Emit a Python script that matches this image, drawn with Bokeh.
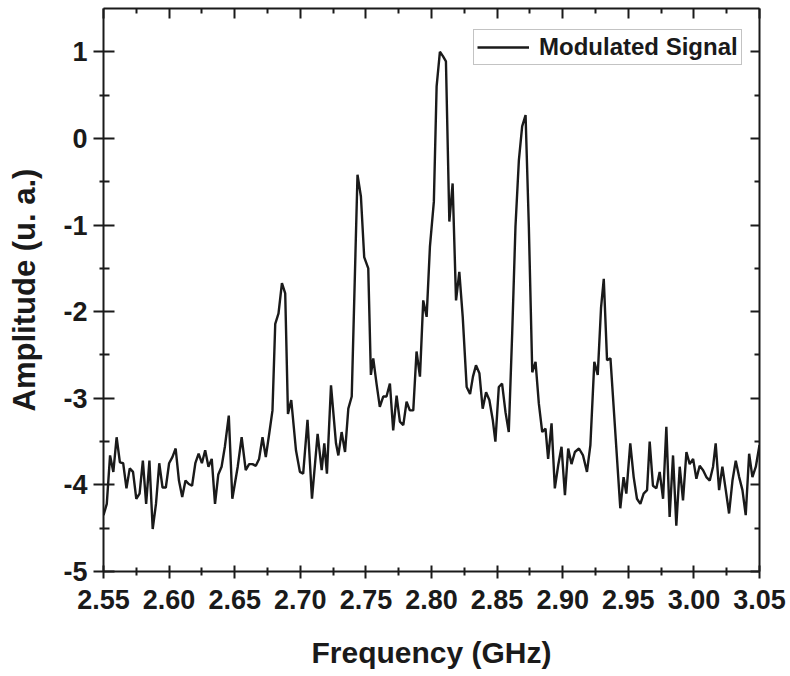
from bokeh.plotting import figure
from bokeh.models import Range1d, FixedTicker, LinearAxis, CustomJSTickFormatter
from bokeh.embed import file_html
from bokeh.resources import INLINE

# ---- data ----
freq_ghz = [
    2.5500, 2.5525, 2.5550, 2.5575, 2.5600, 2.5625, 2.5650, 2.5675, 2.5700, 2.5725,
    2.5750, 2.5775, 2.5800, 2.5825, 2.5850, 2.5875, 2.5900, 2.5925, 2.5950, 2.5975,
    2.6000, 2.6025, 2.6050, 2.6075, 2.6100, 2.6125, 2.6150, 2.6175, 2.6200, 2.6225,
    2.6250, 2.6275, 2.6300, 2.6325, 2.6350, 2.6375, 2.6400, 2.6425, 2.6455, 2.6482,
    2.6523, 2.6553, 2.6584, 2.6610, 2.6636, 2.6661, 2.6686, 2.6712, 2.6737, 2.6763,
    2.6788, 2.6809, 2.6834, 2.6860, 2.6885, 2.6906, 2.6931, 2.6967, 2.6997, 2.7022,
    2.7055, 2.7089, 2.7132, 2.7163, 2.7183, 2.7203, 2.7234, 2.7272, 2.7290, 2.7315,
    2.7341, 2.7366, 2.7392, 2.7436, 2.7462, 2.7487, 2.7518, 2.7538, 2.7556, 2.7581,
    2.7606, 2.7632, 2.7657, 2.7683, 2.7708, 2.7734, 2.7759, 2.7785, 2.7810, 2.7835,
    2.7861, 2.7886, 2.7912, 2.7937, 2.7963, 2.7988, 2.8018, 2.8039, 2.8064, 2.8087,
    2.8110, 2.8136, 2.8161, 2.8187, 2.8212, 2.8238, 2.8268, 2.8294, 2.8316, 2.8339,
    2.8365, 2.8390, 2.8416, 2.8441, 2.8467, 2.8487, 2.8513, 2.8538, 2.8564, 2.8589,
    2.8615, 2.8640, 2.8666, 2.8691, 2.8717, 2.8742, 2.8768, 2.8793, 2.8818, 2.8844,
    2.8869, 2.8889, 2.8915, 2.8940, 2.8966, 2.8991, 2.9017, 2.9042, 2.9067, 2.9093,
    2.9124, 2.9155, 2.9185, 2.9211, 2.9241, 2.9267, 2.9292, 2.9313, 2.9338, 2.9364,
    2.9439, 2.9464, 2.9485, 2.9515, 2.9541, 2.9566, 2.9592, 2.9617, 2.9643, 2.9663,
    2.9688, 2.9714, 2.9739, 2.9765, 2.9790, 2.9815, 2.9841, 2.9866, 2.9892, 2.9917,
    2.9943, 2.9968, 2.9994, 3.0019, 3.0044, 3.0070, 3.0095, 3.0121, 3.0146, 3.0166,
    3.0192, 3.0217, 3.0243, 3.0268, 3.0294, 3.0319, 3.0345, 3.0370, 3.0395, 3.0421,
    3.0446, 3.0472, 3.0500,
]
amplitude = [
    -4.35, -4.22, -3.66, -3.85, -3.45, -3.74, -3.75, -4.04, -3.81, -3.85,
    -4.16, -4.10, -3.72, -4.22, -3.72, -4.51, -4.22, -3.75, -4.03, -4.03,
    -3.75, -3.68, -3.58, -3.95, -4.14, -3.95, -3.99, -4.01, -3.75, -3.64,
    -3.75, -3.60, -3.79, -3.70, -4.22, -3.88, -3.79, -3.56, -3.20, -4.16,
    -3.79, -3.45, -3.83, -3.76, -3.76, -3.78, -3.70, -3.45, -3.68, -3.41,
    -3.14, -2.14, -2.02, -1.67, -1.79, -3.18, -3.02, -3.60, -3.85, -3.87,
    -3.25, -4.16, -3.41, -3.83, -3.52, -3.87, -2.85, -3.52, -3.66, -3.39,
    -3.62, -3.12, -2.98, -0.42, -0.67, -1.37, -1.50, -2.73, -2.54, -2.83,
    -3.10, -2.98, -2.98, -2.83, -3.37, -2.97, -3.27, -3.31, -3.04, -3.14,
    -3.14, -2.46, -2.75, -1.87, -2.06, -1.25, -0.73, 0.60, 1.00, 0.95,
    0.89, -0.96, -0.52, -1.87, -1.54, -2.06, -2.87, -2.95, -2.75, -2.62,
    -2.71, -3.12, -2.93, -3.02, -3.25, -3.50, -2.87, -2.83, -3.16, -3.39,
    -2.25, -1.02, -0.25, 0.14, 0.27, -1.02, -2.70, -2.58, -3.06, -3.39,
    -3.35, -3.70, -3.29, -4.04, -3.77, -3.56, -4.12, -3.58, -3.76, -3.62,
    -3.58, -3.66, -3.85, -3.54, -2.58, -2.73, -1.96, -1.62, -2.56, -2.54,
    -4.27, -3.91, -4.10, -3.52, -3.91, -4.16, -4.22, -4.10, -4.06, -3.50,
    -4.01, -4.04, -3.85, -4.16, -3.33, -4.37, -3.66, -4.47, -3.79, -4.18,
    -3.62, -3.76, -3.70, -3.93, -3.78, -3.83, -3.91, -3.95, -3.79, -3.52,
    -4.06, -3.79, -4.06, -4.33, -3.95, -3.72, -3.91, -4.06, -4.35, -3.64,
    -3.91, -3.79, -3.54,
]

x_ticks = [2.55, 2.60, 2.65, 2.70, 2.75, 2.80, 2.85, 2.90, 2.95, 3.00, 3.05]
x_tick_labels = ["2.55", "2.60", "2.65", "2.70", "2.75", "2.80", "2.85", "2.90", "2.95", "3.00", "3.05"]
x_minor_ticks = [2.575, 2.625, 2.675, 2.725, 2.775, 2.825, 2.875, 2.925, 2.975, 3.025]
y_ticks = [-5, -4, -3, -2, -1, 0, 1]
y_tick_labels = ["-5", "-4", "-3", "-2", "-1", "0", "1"]
y_minor_ticks = [-4.5, -3.5, -2.5, -1.5, -0.5, 0.5]

series_name = "Modulated Signal"
x_title = "Frequency (GHz)"
y_title = "Amplitude (u. a.)"

FONT = "Liberation Sans"
INK = "#1a1a1a"

p = figure(width=790, height=676,
           x_range=Range1d(2.55, 3.05), y_range=Range1d(-5, 1.5),
           output_backend="svg", toolbar_location=None,
           min_border_left=103, min_border_right=31,
           min_border_top=8, min_border_bottom=105)
p.outline_line_color = None
p.xgrid.visible = False
p.ygrid.visible = False
p.background_fill_color = "white"
p.border_fill_color = "white"

p.line(freq_ghz, amplitude, line_color=INK, line_width=2.4, legend_label=series_name)

xt = FixedTicker(ticks=x_ticks, minor_ticks=x_minor_ticks)
yt = FixedTicker(ticks=y_ticks, minor_ticks=y_minor_ticks)


def style(ax):
    ax.axis_line_color = INK
    ax.axis_line_width = 2
    ax.major_tick_line_color = INK
    ax.major_tick_line_width = 2
    ax.minor_tick_line_color = INK
    ax.minor_tick_line_width = 2
    ax.major_label_text_font = FONT
    ax.major_label_text_font_style = "bold"
    ax.major_label_text_color = INK
    ax.axis_label_text_font = FONT
    ax.axis_label_text_font_style = "bold"
    ax.axis_label_text_color = INK


xa = p.xaxis[0]
xa.ticker = xt
xa.major_label_overrides = dict(zip(x_ticks, x_tick_labels))
style(xa)
xa.major_tick_in = 6
xa.major_tick_out = 7
xa.minor_tick_in = 4
xa.minor_tick_out = 4
xa.major_label_text_font_size = "27px"
xa.major_label_standoff = 11
xa.axis_label = x_title
xa.axis_label_text_font_size = "30px"
xa.axis_label_standoff = 24

ya = p.yaxis[0]
ya.ticker = yt
ya.major_label_overrides = dict(zip(y_ticks, y_tick_labels))
style(ya)
ya.major_tick_in = 11
ya.major_tick_out = 10
ya.minor_tick_in = 6
ya.minor_tick_out = 4
ya.major_label_text_font_size = "27px"
ya.major_label_standoff = 6
ya.axis_label = y_title
ya.axis_label_text_font_size = "31px"
ya.axis_label_standoff = 18

blank = CustomJSTickFormatter(code="return ''")

top = LinearAxis(ticker=FixedTicker(ticks=x_ticks, minor_ticks=x_minor_ticks), formatter=blank)
style(top)
top.major_tick_in = 10
top.major_tick_out = 0
top.minor_tick_in = 5
top.minor_tick_out = 0
top.major_label_standoff = 0
top.major_label_text_font_size = "1px"
p.add_layout(top, "above")

right = LinearAxis(ticker=FixedTicker(ticks=y_ticks, minor_ticks=y_minor_ticks), formatter=blank)
style(right)
right.major_tick_in = 9
right.major_tick_out = 0
right.minor_tick_in = 5
right.minor_tick_out = 0
right.major_label_standoff = 0
right.major_label_text_font_size = "1px"
p.add_layout(right, "right")

lg = p.legend[0]
lg.location = (370, 506)
lg.label_text_font = FONT
lg.label_text_font_style = "bold"
lg.label_text_font_size = "24px"
lg.label_text_color = INK
lg.glyph_width = 52
lg.label_standoff = 10
lg.padding = 3
lg.margin = 0
lg.spacing = 0
lg.border_line_color = "#888888"
lg.border_line_width = 1.5
lg.background_fill_alpha = 1

open("out.html", "w").write(file_html(p, INLINE))
